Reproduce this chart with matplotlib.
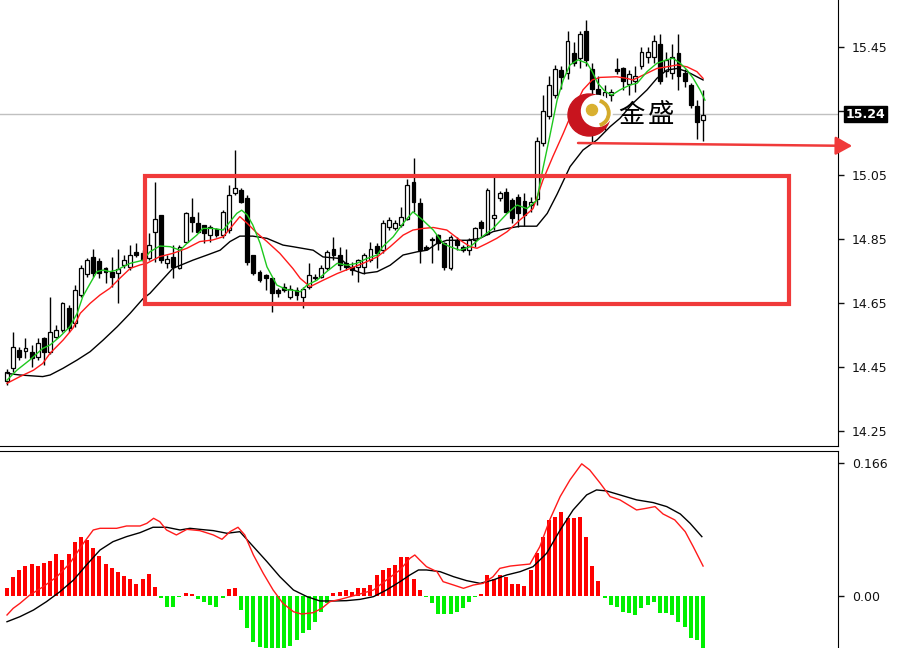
import matplotlib
matplotlib.use("Agg")
import matplotlib.pyplot as plt
from matplotlib.patches import Rectangle, Circle, Wedge
from matplotlib.transforms import blended_transform_factory
import numpy as np

plt.rcParams['font.family'] = ['DejaVu Sans']

# ---------------- data ----------------
opens = [14.405, 14.446, 14.503, 14.50, 14.497, 14.482, 14.54, 14.498, 14.545, 14.565,
         14.633, 14.586, 14.675, 14.74, 14.795, 14.78, 14.758, 14.748, 14.745, 14.769,
         14.763, 14.81, 14.805, 14.79, 14.873, 14.925, 14.774, 14.795, 14.758, 14.842,
         14.92, 14.899, 14.894, 14.862, 14.88, 14.862, 14.878, 14.993, 15.003, 14.977,
         14.80, 14.748, 14.737, 14.727, 14.69, 14.70, 14.669, 14.69, 14.669, 14.701,
         14.727, 14.732, 14.758, 14.82, 14.80, 14.774, 14.763, 14.763, 14.763, 14.784,
         14.828, 14.815, 14.888, 14.883, 14.893, 14.914, 15.029, 14.961, 14.826, 14.85,
         14.862, 14.836, 14.758, 14.847, 14.826, 14.815, 14.847, 14.904, 14.867, 14.915,
         14.977, 14.998, 14.972, 14.98, 14.968, 14.955, 14.975, 15.15, 15.235, 15.30,
         15.378, 15.37, 15.43, 15.415, 15.50, 15.38, 15.32, 15.27, 15.30, 15.38,
         15.383, 15.335, 15.345, 15.39, 15.42, 15.42, 15.46, 15.375, 15.37, 15.43,
         15.37, 15.33, 15.265, 15.222]
highs = [14.445, 14.56, 14.513, 14.54, 14.52, 14.54, 14.545, 14.67, 14.58, 14.654,
         14.643, 14.706, 14.769, 14.79, 14.82, 14.79, 14.763, 14.795, 14.82, 14.80,
         14.831, 14.836, 14.815, 14.868, 15.029, 14.925, 14.80, 14.83, 14.83, 14.935,
         14.977, 14.935, 14.894, 14.894, 14.883, 14.94, 15.018, 15.128, 15.008, 14.987,
         14.80, 14.753, 14.742, 14.727, 14.696, 14.711, 14.705, 14.70, 14.70, 14.774,
         14.742, 14.768, 14.815, 14.857, 14.826, 14.82, 14.779, 14.789, 14.805, 14.841,
         14.836, 14.909, 14.919, 14.909, 14.95, 15.039, 15.102, 14.977, 14.83, 14.857,
         14.867, 14.841, 14.862, 14.857, 14.83, 14.852, 14.888, 14.909, 15.008, 15.045,
         15.0, 15.008, 14.977, 14.99, 14.995, 14.98, 15.17, 15.30, 15.36, 15.395,
         15.39, 15.50, 15.467, 15.50, 15.535, 15.40, 15.36, 15.33, 15.32, 15.415,
         15.386, 15.378, 15.39, 15.45, 15.45, 15.487, 15.49, 15.435, 15.46, 15.49,
         15.38, 15.336, 15.284, 15.315]
lows = [14.395, 14.435, 14.472, 14.477, 14.45, 14.472, 14.456, 14.49, 14.54, 14.56,
        14.56, 14.576, 14.67, 14.732, 14.732, 14.727, 14.711, 14.701, 14.649, 14.758,
        14.753, 14.795, 14.779, 14.784, 14.779, 14.774, 14.758, 14.727, 14.755, 14.836,
        14.873, 14.868, 14.836, 14.842, 14.857, 14.852, 14.868, 14.987, 14.961, 14.769,
        14.737, 14.717, 14.69, 14.623, 14.67, 14.685, 14.664, 14.659, 14.633, 14.695,
        14.722, 14.727, 14.753, 14.784, 14.753, 14.753, 14.737, 14.716, 14.742, 14.779,
        14.758, 14.805, 14.878, 14.878, 14.888, 14.909, 14.935, 14.774, 14.815, 14.774,
        14.815, 14.753, 14.753, 14.815, 14.81, 14.80, 14.826, 14.857, 14.862, 14.878,
        14.97, 14.93, 14.90, 14.888, 14.89, 14.935, 14.955, 15.14, 15.225, 15.29,
        15.32, 15.35, 15.39, 15.385, 15.39, 15.15, 15.255, 15.19, 15.28, 15.365,
        15.316, 15.30, 15.31, 15.38, 15.40, 15.40, 15.335, 15.357, 15.35, 15.315,
        15.325, 15.26, 15.164, 15.155]
closes = [14.435, 14.511, 14.482, 14.51, 14.477, 14.524, 14.498, 14.558, 14.565, 14.649,
          14.571, 14.69, 14.758, 14.784, 14.743, 14.743, 14.748, 14.732, 14.755, 14.784,
          14.80, 14.80, 14.784, 14.83, 14.914, 14.784, 14.789, 14.763, 14.826, 14.93,
          14.904, 14.873, 14.868, 14.888, 14.862, 14.935, 14.987, 15.008, 14.966, 14.779,
          14.743, 14.722, 14.727, 14.68, 14.68, 14.69, 14.695, 14.675, 14.695, 14.737,
          14.73, 14.758, 14.81, 14.80, 14.768, 14.763, 14.753, 14.784, 14.80, 14.82,
          14.805, 14.899, 14.909, 14.899, 14.919, 15.018, 14.966, 14.815, 14.82, 14.847,
          14.836, 14.763, 14.857, 14.831, 14.815, 14.847, 14.883, 14.883, 15.003, 14.925,
          14.993, 14.935, 14.915, 14.93, 14.925, 14.965, 15.155, 15.25, 15.33, 15.38,
          15.355, 15.47, 15.40, 15.49, 15.41, 15.32, 15.28, 15.31, 15.31, 15.375,
          15.345, 15.365, 15.36, 15.435, 15.435, 15.47, 15.345, 15.41, 15.42, 15.36,
          15.345, 15.27, 15.215, 15.238]

# moving averages (bar position, price)
ma_fast_x = [0, 1.6, 3.7, 5.8, 7, 8.6, 10.2, 11.4, 12.3, 13.5, 14.6, 15.6, 16.7, 17.9, 18.8, 20, 21.1,
             22.1, 23.2, 24.8, 26.5, 28.1, 29.2, 30.8, 31.8, 33.4, 35.1, 36.2, 37.3, 38.1, 39, 39.9,
             41.1, 42.2, 43.8, 45.5, 46.4, 47.6, 48.7, 50.3, 51.9, 53.6, 55.2, 56.8, 58.4, 60.1, 61,
             62.7, 64.3, 65.9, 67.5, 69.2, 70.8, 71.9, 73.5, 75.2, 76.8, 78.9, 81.2, 82.8, 84.4, 86,
             87, 88.1, 89.3, 90.3, 91.4, 92.7, 94.2, 95, 95.9, 97.1, 98.2, 99.5, 101.1, 102.3, 103.9,
             105.5, 107.1, 108.1, 109.3, 110.4, 111.4, 112.5, 113.3]
ma_fast_y = [14.409, 14.44, 14.472, 14.508, 14.519, 14.545, 14.576, 14.618, 14.67, 14.711, 14.748,
             14.753, 14.748, 14.753, 14.763, 14.774, 14.779, 14.784, 14.81, 14.828, 14.826, 14.815,
             14.836, 14.862, 14.883, 14.883, 14.878, 14.904, 14.93, 14.94, 14.925, 14.894, 14.836,
             14.763, 14.706, 14.691, 14.69, 14.685, 14.706, 14.721, 14.748, 14.774, 14.768, 14.774,
             14.789, 14.80, 14.826, 14.857, 14.899, 14.935, 14.909, 14.878, 14.836, 14.826, 14.815,
             14.826, 14.852, 14.883, 14.93, 14.956, 14.945, 14.971, 15.07, 15.17, 15.284, 15.347,
             15.394, 15.41, 15.399, 15.373, 15.337, 15.311, 15.30, 15.316, 15.331, 15.337, 15.373,
             15.399, 15.41, 15.415, 15.399, 15.378, 15.352, 15.316, 15.284]
ma_mid_x = [0, 2.1, 4.3, 5.8, 7, 9.1, 10.7, 11.9, 13.5, 15.1, 16.7, 18.3, 20, 21.6, 22.7, 24.8, 26.9,
            29.2, 31.3, 33.4, 35.1, 36.7, 37.8, 39, 40.6, 42.2, 44.3, 46.4, 47.6, 49.2, 51.3, 53.6,
            55.7, 57.8, 60.1, 62.2, 64.3, 65.9, 67.5, 69.2, 71.4, 73.5, 75.2, 76.3, 77.9, 79.5, 81.2,
            83.3, 85.4, 87, 88.6, 90.3, 91.9, 93.5, 95, 96.3, 99, 100.6, 101.6, 103.9, 105.5, 107.1,
            108.8, 110.4, 112, 113]
ma_mid_y = [14.399, 14.42, 14.44, 14.461, 14.493, 14.534, 14.571, 14.618, 14.649, 14.675, 14.696,
            14.727, 14.758, 14.769, 14.774, 14.795, 14.805, 14.821, 14.842, 14.847, 14.857, 14.894,
            14.92, 14.899, 14.868, 14.842, 14.805, 14.758, 14.727, 14.701, 14.721, 14.742, 14.758,
            14.774, 14.794, 14.826, 14.862, 14.878, 14.883, 14.886, 14.878, 14.847, 14.826, 14.821,
            14.836, 14.852, 14.873, 14.91, 14.945, 15.034, 15.107, 15.18, 15.253, 15.316, 15.347,
            15.355, 15.357, 15.352, 15.347, 15.368, 15.383, 15.388, 15.394, 15.388, 15.373, 15.352]
ma_slow_x = [0, 2.1, 5.8, 7, 9.1, 11.4, 13.5, 15.6, 17.9, 20, 22.1, 23.2, 26.9, 30.2, 32.5, 34.6,
             36.2, 37.8, 39.9, 42.2, 44.8, 46.4, 49.7, 51.3, 54.1, 56.2, 57.8, 60.1, 62.2, 64.3, 66.6,
             68.2, 69.8, 71.4, 74.7, 76.8, 78.9, 81.2, 83.3, 86, 87.7, 89.3, 91.4, 93.5, 95.8, 97.9,
             99.5, 101.6, 103.9, 105.5, 107.1, 108.8, 110.4, 112.5, 113]
ma_slow_y = [14.43, 14.425, 14.42, 14.425, 14.446, 14.472, 14.498, 14.534, 14.576, 14.618, 14.664,
             14.68, 14.758, 14.784, 14.80, 14.815, 14.842, 14.859, 14.859, 14.852, 14.831, 14.826,
             14.815, 14.794, 14.789, 14.753, 14.742, 14.748, 14.768, 14.80, 14.81, 14.815, 14.836,
             14.846, 14.846, 14.852, 14.873, 14.883, 14.89, 14.89, 14.93, 14.99, 15.076, 15.128,
             15.16, 15.201, 15.227, 15.274, 15.316, 15.352, 15.378, 15.383, 15.373, 15.352, 15.347]

# MACD
hist = [0.0096, 0.024, 0.032, 0.0375, 0.040, 0.0375, 0.0415, 0.044, 0.053, 0.0455,
        0.053, 0.068, 0.074, 0.070, 0.0595, 0.050, 0.0405, 0.0345, 0.030, 0.025,
        0.021, 0.0152, 0.021, 0.028, 0.0116, -0.002, -0.0133, -0.0133, -0.001, 0.004,
        0.002, -0.004, -0.0075, -0.0112, -0.0133, -0.002, 0.0085, 0.0105, -0.0173, -0.0403,
        -0.057, -0.0633, -0.068, -0.07, -0.07, -0.068, -0.062, -0.055, -0.0466, -0.0424,
        -0.032, -0.0195, -0.009, 0.0033, 0.0054, 0.0075, 0.0054, 0.0096, 0.0096, 0.0137,
        0.0262, 0.0325, 0.0346, 0.0387, 0.049, 0.049, 0.0217, 0.0075, -0.001, -0.009,
        -0.0221, -0.0221, -0.0221, -0.0195, -0.0154, -0.0071, -0.001, 0.003, 0.0262, 0.0217,
        0.0262, 0.024, 0.0146, 0.0146, 0.0125, 0.0325, 0.0533, 0.0741, 0.095, 0.0991,
        0.1054, 0.097, 0.097, 0.098, 0.0741, 0.0379, 0.0187, -0.002, -0.0113, -0.0133,
        -0.0195, -0.0216, -0.0237, -0.0154, -0.0113, -0.0071, -0.0208, -0.0216, -0.0237, -0.032,
        -0.0383, -0.0528, -0.055, -0.075]
macd_red_x = [0, 1, 2.1, 3.7, 5.9, 8.1, 10.2, 12.4, 14, 15.1, 17.8, 19.4, 21.6, 22.7, 23.8, 24.8,
              25.9, 27.5, 29.2, 31.3, 33.5, 34.9, 36.2, 37.5, 38.6, 40, 41.6, 43.2, 44.8, 46.5, 47.8,
              49.7, 51.1, 52.4, 54.1, 55.7, 57.3, 59.5, 61.6, 63.8, 65.4, 66.2, 67, 68.1, 69.8, 70.8,
              72.5, 74.1, 75.7, 77.3, 78.9, 80, 81.7, 83.3, 84.9, 86.5, 88.1, 89.8, 91.4, 93.3, 94.6,
              96.3, 97.9, 99.5, 102.2, 103.8, 105.2, 106.5, 108.4, 110.1, 111.4, 113]
macd_red_y = [-0.0237, -0.0154, -0.0092, 0.0012, 0.0117, 0.0241, 0.0408, 0.0658, 0.0824, 0.0845,
              0.0845, 0.0874, 0.0874, 0.0907, 0.097, 0.0928, 0.0824, 0.0762, 0.0832, 0.0816, 0.0762,
              0.0708, 0.0803, 0.0858, 0.0762, 0.0512, 0.0283, 0.0075, -0.0092, -0.0196, -0.0225,
              -0.0208, -0.0154, -0.0071, -0.0042, -0.0008, 0.0025, 0.0075, 0.02, 0.0325, 0.047,
              0.0512, 0.0449, 0.0366, 0.0304, 0.0179, 0.0137, 0.0096, 0.0137, 0.0158, 0.0241,
              0.0345, 0.0374, 0.0387, 0.0399, 0.0616, 0.095, 0.1241, 0.145, 0.165, 0.1573, 0.1408,
              0.1241, 0.12, 0.1074, 0.1095, 0.1116, 0.1024, 0.095, 0.0803, 0.0616, 0.0374]
macd_blk_x = [0, 2.1, 4.3, 6.4, 8.6, 10.8, 12.9, 15.1, 17.2, 19.4, 21.6, 23.7, 25.9, 28.1, 29.7,
              31.3, 33.5, 35.7, 37.8, 40, 42.2, 44.3, 46.5, 48.7, 50.8, 53, 55.1, 57.3, 59.5, 61.6,
              63.8, 65.4, 66.8, 68.1, 70.3, 72.5, 74.6, 76.8, 78.9, 81.1, 83.3, 85.4, 87.6, 89.8,
              91.9, 94.1, 95.7, 97.3, 99.5, 102.2, 104.9, 107.1, 109.3, 110.9, 112.8]
macd_blk_y = [-0.0321, -0.0258, -0.0175, -0.0071, 0.0054, 0.02, 0.0387, 0.0574, 0.0678, 0.0741,
              0.0791, 0.0858, 0.0858, 0.0824, 0.0845, 0.0832, 0.0816, 0.0783, 0.0803, 0.0616, 0.0429,
              0.0241, 0.0075, -0.0008, -0.0062, -0.0062, -0.0058, -0.0042, -0.0008, 0.0075, 0.0179,
              0.0262, 0.0325, 0.0325, 0.0304, 0.0241, 0.0192, 0.0158, 0.02, 0.0262, 0.0304, 0.0366,
              0.0533, 0.0824, 0.1074, 0.1262, 0.1324, 0.1312, 0.1262, 0.12, 0.1166, 0.1116, 0.1024,
              0.0907, 0.0741]

price_ticks = [14.25, 14.45, 14.65, 14.85, 15.05, 15.25, 15.45]
price_labels = ["14.25", "14.45", "14.65", "14.85", "15.05", "", "15.45"]
macd_ticks = [0.0, 0.166]
macd_labels = ["0.00", "0.166"]
last_price = 15.24
last_label = "15.24"

# zone / arrow annotations (bar position, price)
box_x = (22.4, 126.9)
box_y = (14.647, 15.047)
arrow_from = (92.7, 15.15)
arrow_to = (137.2, 15.141)

# ---------------- figure ----------------
W, H = 899, 648
fig = plt.figure(figsize=(W / 100, H / 100), dpi=100)
fig.patch.set_facecolor('white')
axw = 838 / W
ax = fig.add_axes([0, 1 - 446 / H, axw, 446 / H])
axm = fig.add_axes([0, 0, axw, 197 / H])

xl = (-7 / 6.16, 831 / 6.16)
for a in (ax, axm):
    a.set_xlim(*xl)
    a.set_xticks([])
    a.set_facecolor('white')
    a.yaxis.tick_right()
    a.tick_params(axis='y', direction='out', length=4, width=1, pad=6, labelsize=9,
                  colors='#111111')
    for s in ('left',):
        a.spines[s].set_visible(False)

ax.spines['top'].set_visible(False)
axm.spines['bottom'].set_visible(False)
ax.set_ylim(14.2031, 15.5969)
axm.set_ylim(-0.0649, 0.181)

ax.set_yticks(price_ticks)
ax.set_yticklabels(price_labels)
axm.set_yticks(macd_ticks)
axm.set_yticklabels(macd_labels)

# current price line
ax.axhline(last_price, color='#c0c0c0', lw=1, zorder=1)
trans = blended_transform_factory(ax.transAxes, ax.transData)
ax.text(1.009, last_price, last_label, transform=trans, ha='left', va='center', fontsize=9,
        color='white', fontweight='bold',
        bbox=dict(boxstyle='square,pad=0.12', fc='black', ec='black'))

# candles
n = len(opens)
xs = np.arange(n)
bw = 0.62
for i in range(n):
    o, h, l, c = opens[i], highs[i], lows[i], closes[i]
    ax.plot([xs[i], xs[i]], [l, h], color='black', lw=1, zorder=3, solid_capstyle='butt')
    bot = min(o, c)
    hgt = max(abs(c - o), 0.003)
    fc = 'white' if c >= o else 'black'
    ax.add_patch(Rectangle((xs[i] - bw / 2, bot), bw, hgt, facecolor=fc, edgecolor='black',
                           lw=0.9, zorder=4))

ax.plot(ma_slow_x, ma_slow_y, color='black', lw=1, zorder=5)
ax.plot(ma_mid_x, ma_mid_y, color='#ff1a1a', lw=1, zorder=5)
ax.plot(ma_fast_x, ma_fast_y, color='#1ec81e', lw=1, zorder=5)

ax.add_patch(Rectangle((box_x[0], box_y[0]), box_x[1] - box_x[0], box_y[1] - box_y[0],
                       fill=False, edgecolor='#f03a3a', lw=3, zorder=6))
ax.annotate('', xy=arrow_to, xytext=arrow_from, annotation_clip=False, zorder=7,
            arrowprops=dict(arrowstyle='-|>,head_length=0.5,head_width=0.28', color='#f03a3a',
                            lw=1.8, mutation_scale=20, shrinkA=0, shrinkB=0))

# MACD panel
hcol = ['#ff0000' if v >= 0 else '#00f000' for v in hist]
axm.bar(xs, hist, width=0.65, color=hcol, zorder=2)
axm.plot(macd_blk_x, macd_blk_y, color='black', lw=1, zorder=3)
axm.plot(macd_red_x, macd_red_y, color='#ff1a1a', lw=1, zorder=3)

# logo overlay (pixel space)
ov = fig.add_axes([0, 0, 1, 1], zorder=10)
ov.set_xlim(0, W)
ov.set_ylim(H, 0)
ov.axis('off')
ov.patch.set_alpha(0)
ov.add_patch(Circle((589, 115), 21, color='#c8141e', zorder=1))
ov.add_patch(Circle((597, 111), 15.5, color='white', zorder=2))
ov.add_patch(Wedge((596, 113), 14, -70, 70, width=2.5, color='#d4aa2a', zorder=3))
ov.add_patch(Circle((592, 110), 5.5, color='#d9b030', zorder=4))
ov.text(631, 115, '金', fontsize=19, family=['Noto Sans CJK SC'], ha='center', va='center',
        color='black')
ov.text(661, 115, '盛', fontsize=19, family=['Noto Sans CJK SC'], ha='center', va='center',
        color='black')

fig.savefig('out.png', dpi=100, facecolor='white')
